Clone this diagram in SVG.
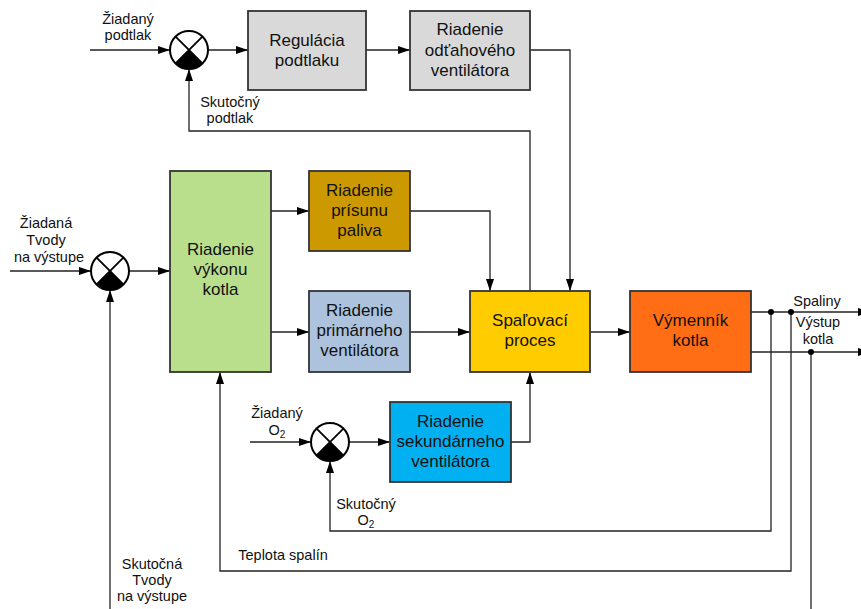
<svg xmlns="http://www.w3.org/2000/svg" xmlns:xlink="http://www.w3.org/1999/xlink" width="861" height="609" viewBox="0 0 861 609">
<style>
.box{stroke:#333;stroke-width:1.8}
.bt{font-family:"Liberation Sans",Arial,sans-serif;font-size:17px;fill:#111;text-anchor:middle}
.lb{font-family:"Liberation Sans",Arial,sans-serif;font-size:14.5px;fill:#111;text-anchor:middle}
.ln{fill:none;stroke:#222;stroke-width:1.3}
.arr{marker-end:url(#ah)}
</style>
<defs>
<marker id="ah" markerUnits="userSpaceOnUse" markerWidth="13" markerHeight="9" refX="12" refY="4" orient="auto">
<path d="M0,0 L12,4 L0,8 z" fill="#000"/>
</marker>
<g id="sum">
<circle cx="0" cy="0" r="19" fill="#fff" stroke="#000" stroke-width="2"/>
<path d="M0,0 L-13.4,13.4 A19,19 0 0 0 13.4,13.4 Z" fill="#000"/>
<path d="M-13.4,-13.4 L13.4,13.4 M13.4,-13.4 L-13.4,13.4" stroke="#000" stroke-width="1.8"/>
</g>
</defs>
<rect width="861" height="609" fill="#fff"/>

<g id="connectors">
<path class="ln arr" d="M90,50 H170"/>
<path class="ln arr" d="M208,50 H248"/>
<path class="ln arr" d="M366,50 H410"/>
<path class="ln arr" d="M530,50 H570 V291"/>
<path class="ln arr" d="M530,291 V131 H189 V69"/>
<path class="ln arr" d="M10,271 H91"/>
<path class="ln arr" d="M129,271 H170"/>
<path class="ln arr" d="M110,609 V290"/>
<path class="ln arr" d="M271,211 H309"/>
<path class="ln arr" d="M271,332 H309"/>
<path class="ln arr" d="M410,211 H490 V291"/>
<path class="ln arr" d="M410,332 H470"/>
<path class="ln arr" d="M250,442 H311"/>
<path class="ln arr" d="M349,442 H390"/>
<path class="ln arr" d="M511,442 H530 V372"/>
<path class="ln arr" d="M590,332 H630"/>
<path class="ln arr" d="M751,312 H870"/>
<path class="ln arr" d="M751,352 H870"/>
<path class="ln arr" d="M771,312 V531 H330 V461"/>
<path class="ln arr" d="M791,312 V571 H220 V372"/>
<path class="ln" d="M811,352 V609"/>
<circle cx="771" cy="312" r="3" fill="#000"/>
<circle cx="791" cy="312" r="3" fill="#000"/>
<circle cx="811" cy="352" r="3" fill="#000"/>
</g>

<g id="sum1"><use xlink:href="#sum" x="189" y="50"/></g>
<g id="sum2"><use xlink:href="#sum" x="110" y="271"/></g>
<g id="sum3"><use xlink:href="#sum" x="330" y="442"/></g>

<g id="regulacia">
<rect class="box" x="248" y="11" width="118" height="79" fill="#d9d9d9"/>
<text class="bt" x="307" y="46">Regulácia</text>
<text class="bt" x="307" y="66">podtlaku</text>
</g>
<g id="odtah">
<rect class="box" x="410" y="11" width="120" height="79" fill="#d9d9d9"/>
<text class="bt" x="470" y="35">Riadenie</text>
<text class="bt" x="470" y="56">odťahového</text>
<text class="bt" x="470" y="76">ventilátora</text>
</g>
<g id="vykon">
<rect class="box" x="170" y="171" width="101" height="201" fill="#b9df8c"/>
<text class="bt" x="220.5" y="255">Riadenie</text>
<text class="bt" x="220.5" y="275">výkonu</text>
<text class="bt" x="220.5" y="295">kotla</text>
</g>
<g id="palivo">
<rect class="box" x="309" y="171" width="101" height="80" fill="#cc9900"/>
<text class="bt" x="359.5" y="196">Riadenie</text>
<text class="bt" x="359.5" y="216">prísunu</text>
<text class="bt" x="359.5" y="236">paliva</text>
</g>
<g id="primar">
<rect class="box" x="309" y="291" width="101" height="81" fill="#adc2dc"/>
<text class="bt" x="359.5" y="316">Riadenie</text>
<text class="bt" x="359.5" y="336">primárneho</text>
<text class="bt" x="359.5" y="356">ventilátora</text>
</g>
<g id="spalovanie">
<rect class="box" x="470" y="291" width="120" height="81" fill="#ffcc00"/>
<text class="bt" x="530" y="326">Spaľovací</text>
<text class="bt" x="530" y="346">proces</text>
</g>
<g id="vymennik">
<rect class="box" x="630" y="291" width="121" height="81" fill="#ff6d14"/>
<text class="bt" x="690.5" y="326">Výmenník</text>
<text class="bt" x="690.5" y="346">kotla</text>
</g>
<g id="sekundar">
<rect class="box" x="390" y="402" width="121" height="80" fill="#00b0f0"/>
<text class="bt" x="450.5" y="427">Riadenie</text>
<text class="bt" x="450.5" y="447">sekundárneho</text>
<text class="bt" x="450.5" y="467">ventilátora</text>
</g>

<g id="labels">
<text class="lb" x="128" y="24">Žiadaný</text>
<text class="lb" x="128" y="40">podtlak</text>
<text class="lb" x="230" y="107">Skutočný</text>
<text class="lb" x="230" y="123">podtlak</text>
<text class="lb" x="46" y="228">Žiadaná</text>
<text class="lb" x="46" y="245">Tvody</text>
<text class="lb" x="49" y="262">na výstupe</text>
<text class="lb" x="152" y="569">Skutočná</text>
<text class="lb" x="152" y="585">Tvody</text>
<text class="lb" x="152" y="601">na výstupe</text>
<text class="lb" x="277" y="418">Žiadaný</text>
<text class="lb" x="277" y="435">O<tspan font-size="10" dy="3">2</tspan></text>
<text class="lb" x="366" y="509">Skutočný</text>
<text class="lb" x="366" y="525">O<tspan font-size="10" dy="3">2</tspan></text>
<text class="lb" x="283" y="560">Teplota spalín</text>
<text class="lb" x="817" y="306">Spaliny</text>
<text class="lb" x="818" y="327">Výstup</text>
<text class="lb" x="818" y="344">kotla</text>
</g>
</svg>
